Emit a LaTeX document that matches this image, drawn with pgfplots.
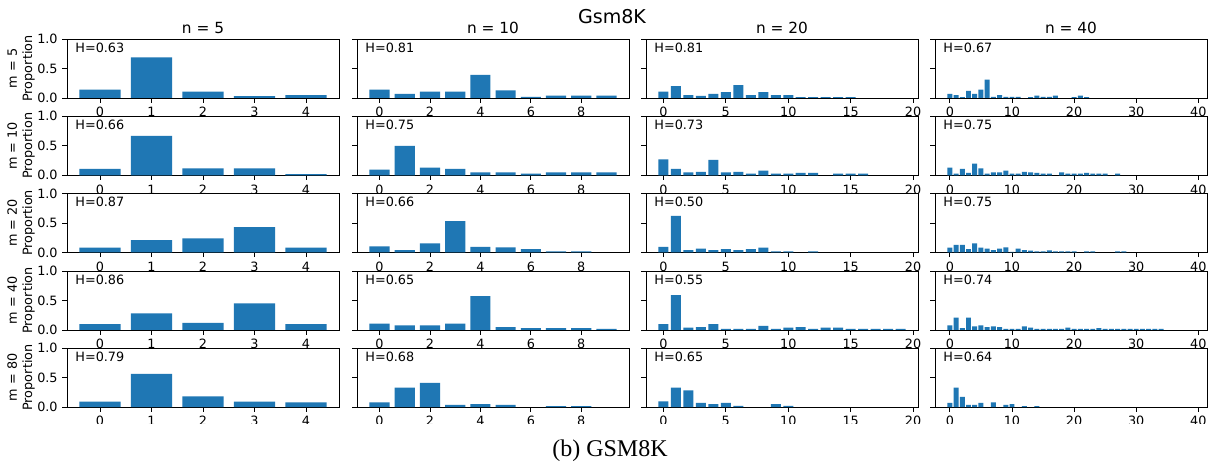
\documentclass[border=0pt]{standalone}
\usepackage{fontspec}
\setmainfont{DejaVu Sans}
\newfontfamily\capfont{Liberation Serif}
\usepackage{pgfplots}
\pgfplotsset{compat=1.18}
\definecolor{barblue}{HTML}{1F77B4}
\pgfplotsset{
  base/.style={
    scale only axis, width=204pt, height=44.25pt, anchor=north west,
    ymin=0, ymax=1, ytick={0,0.5,1}, yticklabels={},
    axis background/.style={fill=white},
    tick align=outside, xtick pos=bottom, ytick pos=left,
    major tick length=3.5pt,
    tick style={black, line width=0.6pt},
    axis line style={black, line width=0.6pt},
    tick label style={font=\fontsize{9.6}{11}\selectfont, text=black},
    /pgf/number format/assume math mode=true,
    ylabel style={font=\fontsize{9.6}{11.5}\selectfont, align=center},
    ylabel shift=-5pt,
    title style={font=\fontsize{11.5}{13}\selectfont, yshift=-5.5pt},
  },
  c1/.style={xmin=-0.64, xmax=4.64, xtick={0,1,2,3,4},
     yticklabels={0.0,0.5,1.0}},
  c2/.style={xmin=-0.89, xmax=9.89, xtick={0,2,4,6,8}},
  c3/.style={xmin=-1.39, xmax=20.39, xtick={0,5,10,15,20}},
  c4/.style={xmin=-2.39, xmax=41.39, xtick={0,10,20,30,40}},
}
\newcommand{\Panel}[6]{%
\begin{axis}[base,#1,at={(#2,#3)},#6]
\addplot[ybar, bar width=0.8, fill=barblue, draw=none] coordinates {#5};
\node[anchor=north west, inner sep=0pt, font=\fontsize{9.6}{11}\selectfont] at (rel axis cs:0.03,0.94) {H=#4};
\end{axis}}
\begin{document}
\begin{tikzpicture}
\useasboundingbox (0,0) rectangle (909.75pt,-349.5pt);
% Row 1: m = 5
\Panel{c1}{50.25pt}{-29.25pt}{0.63}{(0,0.14)(1,0.69)(2,0.11)(3,0.03)(4,0.05)}{ylabel={m = 5\\Proportion}, title={n = 5}}
\Panel{c2}{267.75pt}{-29.25pt}{0.81}{(0,0.14)(1,0.07)(2,0.11)(3,0.11)(4,0.39)(5,0.13)(6,0.02)(7,0.04)(8,0.04)(9,0.04)}{title={n = 10}}
\Panel{c3}{484.5pt}{-29.25pt}{0.81}{(0,0.11)(1,0.20)(2,0.05)(3,0.035)(4,0.07)(5,0.10)(6,0.22)(7,0.05)(8,0.10)(9,0.05)(10,0.05)(11,0.015)(12,0.015)(13,0.015)(14,0.015)(15,0.015)}{title={n = 20}}
\Panel{c4}{701.25pt}{-29.25pt}{0.67}{(0,0.07)(1,0.05)(2,0.015)(3,0.12)(4,0.07)(5,0.14)(6,0.31)(7,0.02)(8,0.05)(9,0.02)(10,0.02)(11,0.02)(13,0.015)(14,0.04)(15,0.02)(16,0.02)(17,0.04)(20,0.015)(21,0.04)(22,0.015)}{title={n = 40}}
% Row 2: m = 10
\Panel{c1}{50.25pt}{-87.25pt}{0.66}{(0,0.11)(1,0.67)(2,0.12)(3,0.12)(4,0.02)}{ylabel={m = 10\\Proportion}}
\Panel{c2}{267.75pt}{-87.25pt}{0.75}{(0,0.095)(1,0.50)(2,0.13)(3,0.11)(4,0.05)(5,0.05)(6,0.028)(7,0.05)(8,0.05)(9,0.05)}{}
\Panel{c3}{484.5pt}{-87.25pt}{0.73}{(0,0.27)(1,0.11)(2,0.05)(3,0.06)(4,0.26)(5,0.05)(6,0.06)(7,0.03)(8,0.08)(9,0.03)(10,0.03)(11,0.04)(12,0.04)(14,0.03)(15,0.03)(16,0.03)}{}
\Panel{c4}{701.25pt}{-87.25pt}{0.75}{(0,0.13)(1,0.03)(2,0.11)(3,0.04)(4,0.20)(5,0.12)(6,0.03)(7,0.05)(8,0.05)(9,0.08)(10,0.03)(11,0.03)(12,0.06)(13,0.05)(14,0.04)(15,0.03)(16,0.03)(18,0.05)(19,0.03)(20,0.03)(21,0.03)(22,0.04)(23,0.03)(24,0.03)(25,0.03)(27,0.03)}{}
% Row 3: m = 20
\Panel{c1}{50.25pt}{-145.1pt}{0.87}{(0,0.08)(1,0.21)(2,0.24)(3,0.43)(4,0.08)}{ylabel={m = 20\\Proportion}}
\Panel{c2}{267.75pt}{-145.1pt}{0.66}{(0,0.105)(1,0.04)(2,0.155)(3,0.53)(4,0.095)(5,0.085)(6,0.055)(7,0.02)(8,0.02)}{}
\Panel{c3}{484.5pt}{-145.1pt}{0.50}{(0,0.095)(1,0.62)(2,0.04)(3,0.065)(4,0.04)(5,0.055)(6,0.04)(7,0.055)(8,0.08)(9,0.02)(10,0.02)(12,0.02)}{}
\Panel{c4}{701.25pt}{-145.1pt}{0.75}{(0,0.08)(1,0.13)(2,0.13)(3,0.055)(4,0.155)(5,0.08)(6,0.065)(7,0.04)(8,0.065)(9,0.085)(10,0.01)(11,0.065)(12,0.04)(13,0.03)(14,0.02)(15,0.02)(16,0.035)(17,0.02)(18,0.02)(19,0.02)(20,0.02)(22,0.02)(23,0.02)(27,0.02)(28,0.02)}{}
% Row 4: m = 40
\Panel{c1}{50.25pt}{-203.25pt}{0.86}{(0,0.10)(1,0.28)(2,0.12)(3,0.45)(4,0.10)}{ylabel={m = 40\\Proportion}}
\Panel{c2}{267.75pt}{-203.25pt}{0.65}{(0,0.11)(1,0.08)(2,0.08)(3,0.11)(4,0.575)(5,0.05)(6,0.03)(7,0.03)(8,0.03)(9,0.02)}{}
\Panel{c3}{484.5pt}{-203.25pt}{0.55}{(0,0.10)(1,0.59)(2,0.04)(3,0.05)(4,0.10)(5,0.02)(6,0.02)(7,0.02)(8,0.07)(9,0.02)(10,0.04)(11,0.05)(12,0.02)(13,0.04)(14,0.04)(15,0.02)(16,0.02)(17,0.02)(18,0.02)(19,0.02)}{}
\Panel{c4}{701.25pt}{-203.25pt}{0.74}{(0,0.08)(1,0.21)(2,0.03)(3,0.21)(4,0.06)(5,0.08)(6,0.05)(7,0.06)(8,0.05)(9,0.02)(10,0.02)(11,0.02)(12,0.06)(13,0.04)(14,0.02)(15,0.02)(16,0.02)(17,0.02)(18,0.02)(19,0.04)(20,0.02)(21,0.02)(22,0.02)(23,0.02)(24,0.03)(25,0.02)(26,0.02)(27,0.02)(28,0.02)(29,0.02)(30,0.02)(31,0.02)(32,0.02)(33,0.02)(34,0.02)}{}
% Row 5: m = 80
\Panel{c1}{50.25pt}{-261pt}{0.79}{(0,0.09)(1,0.56)(2,0.18)(3,0.09)(4,0.08)}{ylabel={m = 80\\Proportion}}
\Panel{c2}{267.75pt}{-261pt}{0.68}{(0,0.08)(1,0.33)(2,0.41)(3,0.035)(4,0.05)(5,0.035)(7,0.015)(8,0.015)}{}
\Panel{c3}{484.5pt}{-261pt}{0.65}{(0,0.095)(1,0.33)(2,0.28)(3,0.07)(4,0.05)(5,0.07)(6,0.02)(9,0.05)(10,0.02)}{}
\Panel{c4}{701.25pt}{-261pt}{0.64}{(0,0.07)(1,0.33)(2,0.17)(3,0.035)(4,0.035)(5,0.07)(7,0.08)(9,0.035)(10,0.05)(12,0.015)(14,0.015)}{}
% crop of the figure image below last tick labels
\fill[white] (0,-318pt) rectangle (909.75pt,-328pt);
% suptitle and caption
\node[font=\fontsize{14.3}{16}\selectfont] at (459pt,-12.75pt) {Gsm8K};
\node[font=\capfont\fontsize{18}{20}\selectfont] at (457.5pt,-338pt) {(b) GSM8K};
\end{tikzpicture}
\end{document}
